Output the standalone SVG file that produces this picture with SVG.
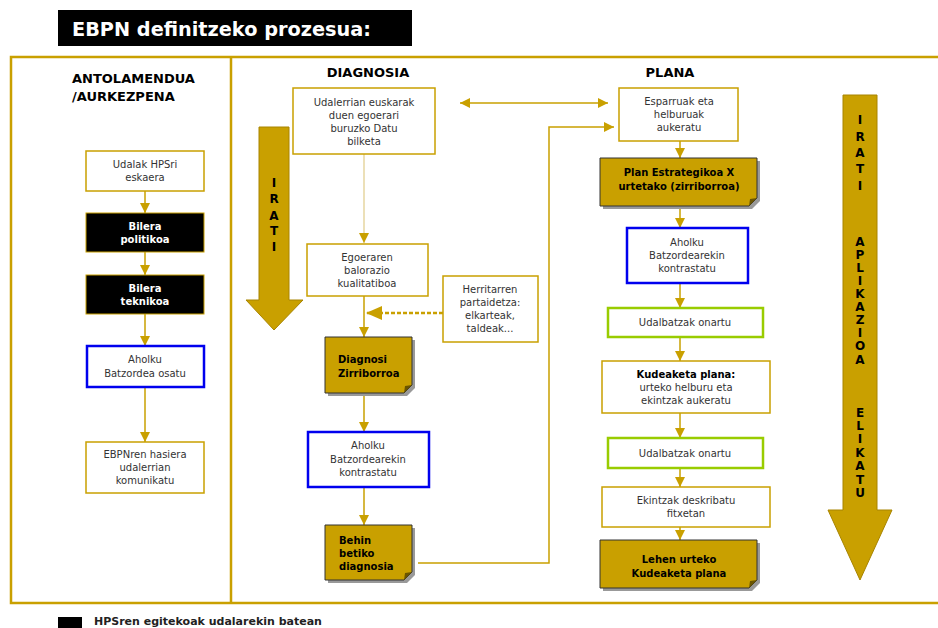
<svg xmlns="http://www.w3.org/2000/svg" width="938" height="628" viewBox="0 0 938 628">
<defs>
<marker id="ah" viewBox="0 0 10 10" refX="10" refY="5" markerWidth="10" markerHeight="10" markerUnits="userSpaceOnUse" orient="auto-start-reverse">
<path d="M0,0 L10,5 L0,10 z" fill="#C9A000"/>
</marker>
<marker id="ahp" viewBox="0 0 10 10" refX="10" refY="5" markerWidth="10" markerHeight="10" markerUnits="userSpaceOnUse" orient="auto">
<path d="M0,0 L10,5 L0,10 z" fill="#C9A000"/>
</marker>
<marker id="ahb" viewBox="0 0 16 14" refX="16" refY="7" markerWidth="16" markerHeight="14" markerUnits="userSpaceOnUse" orient="auto">
<path d="M0,0 L16,7 L0,14 z" fill="#C9A000"/>
</marker>
</defs>
<style>
text{font-family:"DejaVu Sans",Verdana,sans-serif;font-size:10px;fill:#333;text-anchor:middle}
.b{font-weight:bold;fill:#000}
.w{font-weight:bold;fill:#fff}
.hd{font-weight:bold;font-size:13px;fill:#000}
.let{font-weight:bold;font-size:12px;fill:#000}
.box{fill:#fff;stroke:#C9A000;stroke-width:1.5}
.blk{fill:#000;stroke:#C9A000;stroke-width:1}
.blue{fill:#fff;stroke:#0000EE;stroke-width:2.5}
.grn{fill:#fff;stroke:#99CC00;stroke-width:2.5}
.doc{fill:#C9A000;stroke:#333;stroke-width:1}
.sh{fill:#999}
.con{stroke:#C9A000;stroke-width:1.5;fill:none}
.big{fill:#C9A000;stroke:#A88400;stroke-width:1}
</style>

<g id="title">
<rect x="58" y="10" width="354" height="36" fill="#000"/>
<text x="72" y="36" style="font-size:19.3px;font-weight:bold;fill:#fff;text-anchor:start">EBPN definitzeko prozesua:</text>
</g>

<g id="frame">
<path d="M940,57 H11 V603 H940" fill="none" stroke="#C9A000" stroke-width="2.5"/>
<line x1="231" y1="57" x2="231" y2="603" stroke="#C9A000" stroke-width="2.5"/>
</g>

<g id="headers">
<text class="hd" x="72" y="83" style="text-anchor:start">ANTOLAMENDUA</text>
<text class="hd" x="72" y="101" style="text-anchor:start">/AURKEZPENA</text>
<text class="hd" x="368" y="77">DIAGNOSIA</text>
<text class="hd" x="670" y="77">PLANA</text>
</g>

<g id="connectors">
<line class="con" x1="145" y1="191" x2="145" y2="213" marker-end="url(#ah)"/>
<line class="con" x1="145" y1="252" x2="145" y2="275" marker-end="url(#ah)"/>
<line class="con" x1="145" y1="314" x2="145" y2="346" marker-end="url(#ah)"/>
<line class="con" x1="145" y1="387" x2="145" y2="442" marker-end="url(#ah)"/>
<line x1="364" y1="154" x2="364" y2="243" stroke="#E6D6A0" stroke-width="1.5" marker-end="url(#ahp)"/>
<line class="con" x1="364" y1="296" x2="364" y2="337" marker-end="url(#ah)"/>
<line x1="443" y1="313" x2="366" y2="313" stroke="#C9A000" stroke-width="2.5" stroke-dasharray="4,2" marker-end="url(#ahb)"/>
<line class="con" x1="364" y1="393" x2="364" y2="432" marker-end="url(#ah)"/>
<line class="con" x1="364" y1="487" x2="364" y2="525" marker-end="url(#ah)"/>
<path class="con" d="M418,563 H549 V127 H614" marker-end="url(#ah)"/>
<line class="con" x1="460" y1="103" x2="608" y2="103" marker-start="url(#ah)" marker-end="url(#ah)"/>
<line class="con" x1="680" y1="141" x2="680" y2="158" marker-end="url(#ah)"/>
<line class="con" x1="680" y1="206" x2="680" y2="228" marker-end="url(#ah)"/>
<line class="con" x1="680" y1="283" x2="680" y2="308" marker-end="url(#ah)"/>
<line class="con" x1="680" y1="337" x2="680" y2="361" marker-end="url(#ah)"/>
<line class="con" x1="680" y1="413" x2="680" y2="438" marker-end="url(#ah)"/>
<line class="con" x1="680" y1="468" x2="680" y2="487" marker-end="url(#ah)"/>
<line class="con" x1="680" y1="527" x2="680" y2="540" marker-end="url(#ah)"/>
</g>

<g id="irati-left">
<path class="big" d="M259,127 H289 V300 H303 L274,330 L246,300 H259 Z"/>
<text class="let" x="274" y="187">I</text>
<text class="let" x="274" y="203">R</text>
<text class="let" x="274" y="220">A</text>
<text class="let" x="274" y="235">T</text>
<text class="let" x="274" y="251">I</text>
</g>

<g id="irati-right">
<path class="big" d="M843,95 H877 V510 H892 L860,580 L828,510 H843 Z"/>
<text class="let" x="860" y="124">I</text>
<text class="let" x="860" y="141">R</text>
<text class="let" x="860" y="157">A</text>
<text class="let" x="860" y="173">T</text>
<text class="let" x="860" y="190">I</text>
<text class="let" x="860" y="246">A</text>
<text class="let" x="860" y="259">P</text>
<text class="let" x="860" y="272">L</text>
<text class="let" x="860" y="285">I</text>
<text class="let" x="860" y="298">K</text>
<text class="let" x="860" y="311">A</text>
<text class="let" x="860" y="324">Z</text>
<text class="let" x="860" y="337">I</text>
<text class="let" x="860" y="350">O</text>
<text class="let" x="860" y="364">A</text>
<text class="let" x="860" y="417">E</text>
<text class="let" x="860" y="430">L</text>
<text class="let" x="860" y="443">I</text>
<text class="let" x="860" y="457">K</text>
<text class="let" x="860" y="470">A</text>
<text class="let" x="860" y="484">T</text>
<text class="let" x="860" y="497">U</text>
</g>

<g id="n-udalak">
<rect class="box" x="86" y="151" width="118" height="40"/>
<text x="145" y="168">Udalak HPSri</text>
<text x="145" y="181">eskaera</text>
</g>
<g id="n-bilera-pol">
<rect class="blk" x="86" y="213" width="118" height="39"/>
<text class="w" x="145" y="230">Bilera</text>
<text class="w" x="145" y="243">politikoa</text>
</g>
<g id="n-bilera-tek">
<rect class="blk" x="86" y="275" width="118" height="39"/>
<text class="w" x="145" y="292">Bilera</text>
<text class="w" x="145" y="305">teknikoa</text>
</g>
<g id="n-aholku-osatu">
<rect class="blue" x="87" y="346" width="117" height="41"/>
<text x="145" y="363">Aholku</text>
<text x="145" y="377">Batzordea osatu</text>
</g>
<g id="n-ebpn-hasiera">
<rect class="box" x="86" y="442" width="118" height="51"/>
<text x="145" y="458">EBPNren hasiera</text>
<text x="145" y="471">udalerrian</text>
<text x="145" y="484">komunikatu</text>
</g>

<g id="n-datu">
<rect class="box" x="293" y="88" width="142" height="66"/>
<text x="364" y="106">Udalerrian euskarak</text>
<text x="364" y="119">duen egoerari</text>
<text x="364" y="132">buruzko Datu</text>
<text x="364" y="145">bilketa</text>
</g>
<g id="n-egoeraren">
<rect class="box" x="307" y="244" width="121" height="52"/>
<text x="367" y="261">Egoeraren</text>
<text x="367" y="274">balorazio</text>
<text x="367" y="287">kualitatiboa</text>
</g>
<g id="n-herritarren">
<rect class="box" x="443" y="276" width="95" height="66"/>
<text x="490" y="293">Herritarren</text>
<text x="490" y="306">partaidetza:</text>
<text x="490" y="319">elkarteak,</text>
<text x="490" y="332">taldeak...</text>
</g>
<g id="n-diag-zirri">
<path class="sh" d="M328,340 H415 V388 L407,396 H328 Z"/>
<path class="doc" d="M325,337 H412 V385 L404,393 H325 Z"/>
<path d="M412,385 L404,393 L405,386 Z" fill="#6b5500"/>
<text class="b" x="338" y="363" style="text-anchor:start">Diagnosi</text>
<text class="b" x="338" y="377" style="text-anchor:start">Zirriborroa</text>
</g>
<g id="n-aholku-diag">
<rect class="blue" x="308" y="432" width="121" height="55"/>
<text x="368" y="449">Aholku</text>
<text x="368" y="463">Batzordearekin</text>
<text x="368" y="476">kontrastatu</text>
</g>
<g id="n-behin">
<path class="sh" d="M328,528 H415 V575 L407,583 H328 Z"/>
<path class="doc" d="M325,525 H412 V572 L404,580 H325 Z"/>
<path d="M412,572 L404,580 L405,573 Z" fill="#6b5500"/>
<text class="b" x="339" y="544" style="text-anchor:start">Behin</text>
<text class="b" x="339" y="557" style="text-anchor:start">betiko</text>
<text class="b" x="339" y="570" style="text-anchor:start">diagnosia</text>
</g>

<g id="n-esparruak">
<rect class="box" x="619" y="88" width="119" height="53"/>
<text x="679" y="105">Esparruak eta</text>
<text x="679" y="118">helburuak</text>
<text x="679" y="131">aukeratu</text>
</g>
<g id="n-plan-estr">
<path class="sh" d="M603,161 H760 V201 L752,209 H603 Z"/>
<path class="doc" d="M600,158 H757 V198 L749,206 H600 Z"/>
<path d="M757,198 L749,206 L750,199 Z" fill="#6b5500"/>
<text class="b" x="679" y="176">Plan Estrategikoa X</text>
<text class="b" x="679" y="190">urtetako (zirriborroa)</text>
</g>
<g id="n-aholku-plan">
<rect class="blue" x="627" y="228" width="121" height="55"/>
<text x="687" y="246">Aholku</text>
<text x="687" y="259">Batzordearekin</text>
<text x="687" y="272">kontrastatu</text>
</g>
<g id="n-udalbatzak1">
<rect class="grn" x="608" y="308" width="155" height="29"/>
<text x="685" y="326">Udalbatzak onartu</text>
</g>
<g id="n-kudeaketa">
<rect class="box" x="602" y="361" width="168" height="52"/>
<text class="b" x="686" y="378">Kudeaketa plana:</text>
<text x="686" y="391">urteko helburu eta</text>
<text x="686" y="404">ekintzak aukeratu</text>
</g>
<g id="n-udalbatzak2">
<rect class="grn" x="608" y="438" width="155" height="30"/>
<text x="685" y="457">Udalbatzak onartu</text>
</g>
<g id="n-ekintzak">
<rect class="box" x="602" y="487" width="168" height="40"/>
<text x="686" y="504">Ekintzak deskribatu</text>
<text x="686" y="517">fitxetan</text>
</g>
<g id="n-lehen">
<path class="sh" d="M603,543 H760 V583 L752,591 H603 Z"/>
<path class="doc" d="M600,540 H757 V580 L749,588 H600 Z"/>
<path d="M757,580 L749,588 L750,581 Z" fill="#6b5500"/>
<text class="b" x="679" y="563">Lehen urteko</text>
<text class="b" x="679" y="577">Kudeaketa plana</text>
</g>

<g id="legend">
<rect x="58" y="617" width="24" height="14" fill="#000"/>
<text x="94" y="625" style="text-anchor:start;font-weight:bold;font-size:11px;fill:#222">HPSren egitekoak udalarekin batean</text>
</g>
</svg>
